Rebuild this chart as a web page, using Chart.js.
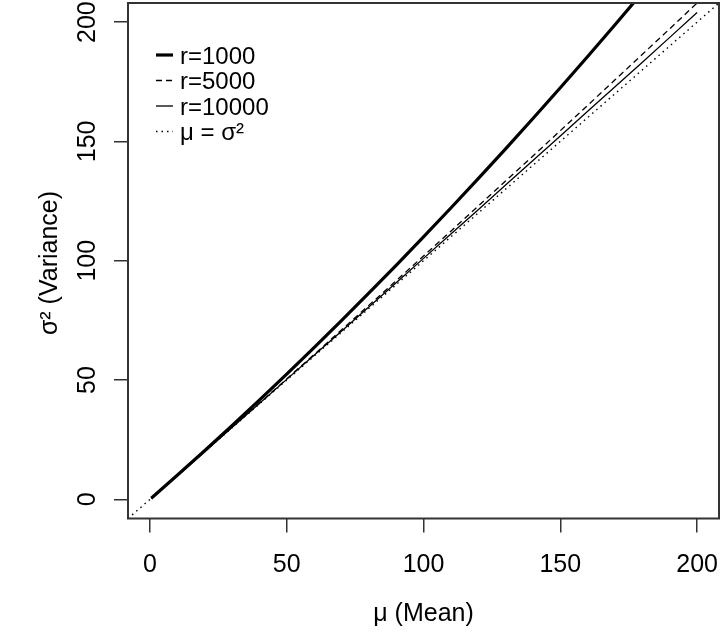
<!DOCTYPE html>
<html>
<head>
<meta charset="utf-8">
<title>Mean vs variance</title>
<script src="https://cdn.jsdelivr.net/npm/chart.js@4.4.1/dist/chart.umd.min.js"></script>
<style>
  html, body { margin: 0; padding: 0; background: #fff; }
  #wrap { width: 722px; height: 633px; }
</style>
</head>
<body>
<div id="wrap"><canvas id="mvChart" width="722" height="633"></canvas></div>
<script>
// values
const muValues = [0.5, 10, 20, 30, 40, 50, 60, 70, 80, 90, 100, 110, 120, 130, 140, 150, 160, 170, 180, 190, 200];
const var1000 = [0.5, 10.1, 20.4, 30.9, 41.6, 52.5, 63.6, 74.9, 86.4, 98.1, 110.0, 122.1, 134.4, 146.9, 159.6, 172.5, 185.6, 198.9, 212.4];
const var5000 = [0.5, 10.0, 20.1, 30.2, 40.3, 50.5, 60.7, 71.0, 81.3, 91.6, 102.0, 112.4, 122.9, 133.4, 143.9, 154.5, 165.1, 175.8, 186.5, 197.2, 208.0];
const var10000 = [0.5, 10.0, 20.0, 30.1, 40.2, 50.3, 60.4, 70.5, 80.6, 90.8, 101.0, 111.2, 121.4, 131.7, 142.0, 152.3, 162.6, 172.9, 183.2, 193.6, 204.0];
const identityX = [-8, 208];
const identityY = [-8, 208];

const seriesLabels = ['r=1000', 'r=5000', 'r=10000', 'μ = σ²'];
const xTicks = [0, 50, 100, 150, 200];
const yTicks = [0, 50, 100, 150, 200];
const xTitle = 'μ (Mean)';
const yTitle = 'σ² (Variance)';

const FONT = '25px "Liberation Sans", Arial, sans-serif';
const INK = '#000';

function toPoints(xs, ys) {
  return ys.map((y, i) => ({ x: xs[i], y: y }));
}

// R-like box, tick labels, axis titles and legend
const rStylePlugin = {
  id: 'rStyle',
  afterDraw(chart) {
    const ctx = chart.ctx;
    const a = chart.chartArea;
    const xs = chart.scales.x;
    const ys = chart.scales.y;
    ctx.save();

    ctx.strokeStyle = '#333';
    ctx.lineWidth = 2;
    ctx.setLineDash([]);
    ctx.strokeRect(a.left, a.top, a.right - a.left, a.bottom - a.top);

    ctx.fillStyle = INK;
    ctx.font = FONT;
    ctx.textAlign = 'center';
    ctx.textBaseline = 'alphabetic';

    xTicks.forEach(v => ctx.fillText(String(v), xs.getPixelForValue(v), 572));
    yTicks.forEach(v => {
      ctx.save();
      ctx.translate(95, ys.getPixelForValue(v));
      ctx.rotate(-Math.PI / 2);
      ctx.fillText(String(v), 0, 0);
      ctx.restore();
    });

    ctx.fillText(xTitle, (a.left + a.right) / 2, 621);
    ctx.save();
    ctx.translate(57, 263);
    ctx.rotate(-Math.PI / 2);
    ctx.fillText(yTitle, 0, 0);
    ctx.restore();

    // legend, top-left inside the box
    ctx.font = '24px "Liberation Sans", Arial, sans-serif';
    ctx.textAlign = 'left';
    chart.data.datasets.forEach((ds, i) => {
      const yc = 55 + i * 25.5;
      ctx.beginPath();
      ctx.strokeStyle = ds.borderColor;
      ctx.lineWidth = ds.borderWidth;
      ctx.setLineDash(ds.borderDash || []);
      ctx.moveTo(156, yc);
      ctx.lineTo(173, yc);
      ctx.stroke();
      ctx.setLineDash([]);
      ctx.fillText(ds.label, 180, yc + 8.5);
    });

    ctx.restore();
  }
};

const ctx = document.getElementById('mvChart').getContext('2d');
const chart = new Chart(ctx, {
  type: 'line',
  data: {
    datasets: [
      {
        label: seriesLabels[0],
        data: toPoints(muValues, var1000),
        borderColor: '#000',
        borderWidth: 3.2
      },
      {
        label: seriesLabels[1],
        data: toPoints(muValues, var5000),
        borderColor: '#000',
        borderWidth: 1.3,
        borderDash: [6, 4]
      },
      {
        label: seriesLabels[2],
        data: toPoints(muValues, var10000),
        borderColor: '#000',
        borderWidth: 1.3
      },
      {
        label: seriesLabels[3],
        data: toPoints(identityX, identityY),
        borderColor: '#000',
        borderWidth: 1.4,
        borderDash: [1.5, 4]
      }
    ]
  },
  options: {
    responsive: false,
    animation: false,
    events: [],
    layout: { padding: { top: 3, right: 3, left: 0, bottom: 0 } },
    elements: {
      point: { radius: 0 },
      line: { tension: 0, fill: false }
    },
    plugins: {
      legend: { display: false },
      tooltip: { enabled: false },
      title: { display: false }
    },
    scales: {
      x: {
        type: 'linear',
        min: -8,
        max: 208,
        afterBuildTicks: scale => { scale.ticks = xTicks.map(v => ({ value: v })); },
        afterFit: scale => { scale.height = 114.5; },
        ticks: { display: false },
        border: { display: false },
        grid: { drawOnChartArea: false, drawTicks: true, tickLength: 14, color: '#333', lineWidth: 1.5 }
      },
      y: {
        type: 'linear',
        min: -8,
        max: 208,
        afterBuildTicks: scale => { scale.ticks = yTicks.map(v => ({ value: v })); },
        afterFit: scale => { scale.width = 128; },
        ticks: { display: false },
        border: { display: false },
        grid: { drawOnChartArea: false, drawTicks: true, tickLength: 14, color: '#333', lineWidth: 1.5 }
      }
    }
  },
  plugins: [rStylePlugin]
});
</script>
</body>
</html>
